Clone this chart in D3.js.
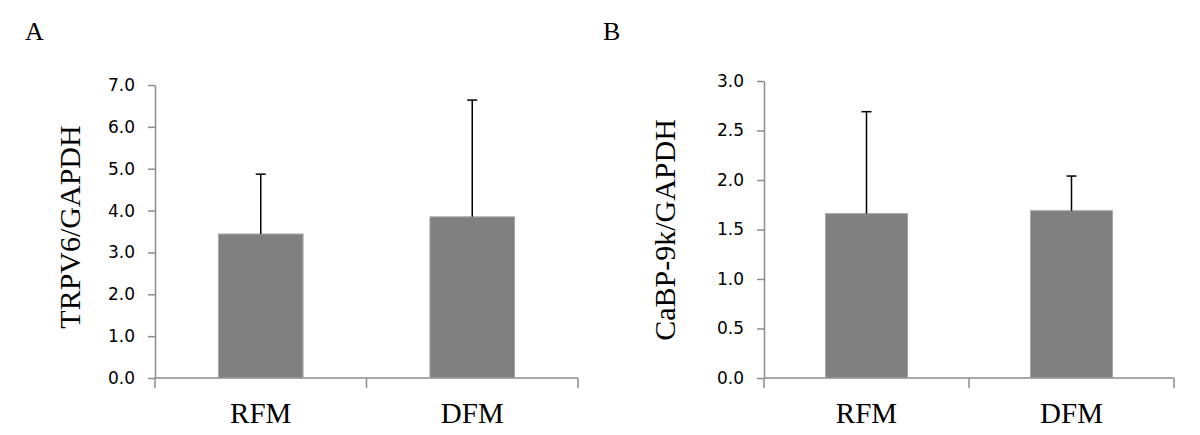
<!DOCTYPE html>
<html lang="en">
<head>
    <meta charset="UTF-8">
    <title>TRPV6 and CaBP-9k expression</title>
    <script src="https://d3js.org/d3.v7.min.js"></script>
    <style>
        body {
            margin: 0;
            background-color: white;
        }
        svg {
            display: block;
        }
        .tick text {
            font-family: "DejaVu Sans", sans-serif;
            font-size: 17px;
            fill: #000;
        }
        .serif {
            font-family: "Liberation Serif", "Times New Roman", serif;
            fill: #000;
        }
    </style>
</head>
<body>
    <script>
        // Data
        const groups = ["RFM", "DFM"];
        const trpv6Means = [3.44, 3.85];
        const trpv6Errors = [1.43, 2.79];
        const cabpMeans = [1.66, 1.69];
        const cabpErrors = [1.03, 0.35];
        const trpv6Ticks = [0, 1, 2, 3, 4, 5, 6, 7];
        const cabpTicks = [0, 0.5, 1, 1.5, 2, 2.5, 3];

        const svg = d3.select("body").append("svg")
            .attr("width", 1200)
            .attr("height", 435);

        const axisColor = "#8c8c8c";

        function drawPanel(opts) {
            const g = svg.append("g");

            const y = d3.scaleLinear()
                .domain([0, opts.yMax])
                .range([opts.bottom, opts.top]);

            const x = d3.scaleBand()
                .domain(groups)
                .range([opts.left, opts.right])
                .padding(0);

            // y axis
            const yAxis = g.append("g")
                .attr("transform", `translate(${opts.left},0)`)
                .call(d3.axisLeft(y)
                    .tickValues(opts.ticks)
                    .tickFormat(d3.format(".1f"))
                    .tickSizeInner(7)
                    .tickSizeOuter(0)
                    .tickPadding(13));
            yAxis.select(".domain").attr("stroke", axisColor).attr("stroke-width", 1.5);
            yAxis.selectAll(".tick line").attr("stroke", axisColor).attr("stroke-width", 1.5);

            // x axis line
            g.append("line")
                .attr("x1", opts.left)
                .attr("x2", opts.right)
                .attr("y1", y(0))
                .attr("y2", y(0))
                .attr("stroke", axisColor)
                .attr("stroke-width", 1.5);

            // category boundary ticks
            const bounds = groups.map(d => x(d)).concat([x(groups[groups.length - 1]) + x.bandwidth()]);
            g.selectAll(".bound")
                .data(bounds)
                .enter()
                .append("line")
                .attr("x1", d => d)
                .attr("x2", d => d)
                .attr("y1", y(0))
                .attr("y2", y(0) + 10)
                .attr("stroke", axisColor)
                .attr("stroke-width", 1.5);

            const barW = x.bandwidth() * 0.4;

            const rows = groups.map((grp, i) => ({grp: grp, mean: opts.means[i], err: opts.errors[i]}));

            // bars
            g.selectAll(".bar")
                .data(rows)
                .enter()
                .append("rect")
                .attr("x", d => x(d.grp) + (x.bandwidth() - barW) / 2)
                .attr("y", d => y(d.mean))
                .attr("width", barW)
                .attr("height", d => y(0) - y(d.mean))
                .attr("fill", "#808080")
                .attr("stroke", "#a6a6a6")
                .attr("stroke-width", 1);

            // error bars (upper only)
            g.selectAll(".err")
                .data(rows)
                .enter()
                .append("line")
                .attr("x1", d => x(d.grp) + x.bandwidth() / 2)
                .attr("x2", d => x(d.grp) + x.bandwidth() / 2)
                .attr("y1", d => y(d.mean))
                .attr("y2", d => y(d.mean + d.err))
                .attr("stroke", "#000")
                .attr("stroke-width", 1.5);

            g.selectAll(".cap")
                .data(rows)
                .enter()
                .append("line")
                .attr("x1", d => x(d.grp) + x.bandwidth() / 2 - 5)
                .attr("x2", d => x(d.grp) + x.bandwidth() / 2 + 5)
                .attr("y1", d => y(d.mean + d.err))
                .attr("y2", d => y(d.mean + d.err))
                .attr("stroke", "#000")
                .attr("stroke-width", 1.5);

            // category labels
            g.selectAll(".cat")
                .data(groups)
                .enter()
                .append("text")
                .attr("class", "serif")
                .attr("x", d => x(d) + x.bandwidth() / 2)
                .attr("y", 423)
                .attr("text-anchor", "middle")
                .style("font-size", "29px")
                .text(d => d);

            // y axis title
            g.append("text")
                .attr("class", "serif")
                .attr("transform", `translate(${opts.titleX},${opts.titleY}) rotate(-90)`)
                .attr("text-anchor", "middle")
                .style("font-size", "30px")
                .text(opts.title);

            // panel letter
            g.append("text")
                .attr("class", "serif")
                .attr("x", opts.letterX)
                .attr("y", 40)
                .style("font-size", "26px")
                .text(opts.letter);
        }

        drawPanel({
            left: 155, right: 578, top: 85, bottom: 378,
            yMax: 7, ticks: trpv6Ticks,
            means: trpv6Means, errors: trpv6Errors,
            title: "TRPV6/GAPDH", titleX: 80, titleY: 227,
            letter: "A", letterX: 25
        });

        drawPanel({
            left: 764, right: 1174, top: 81, bottom: 378,
            yMax: 3, ticks: cabpTicks,
            means: cabpMeans, errors: cabpErrors,
            title: "CaBP-9k/GAPDH", titleX: 675, titleY: 230,
            letter: "B", letterX: 603
        });
    </script>
</body>
</html>
